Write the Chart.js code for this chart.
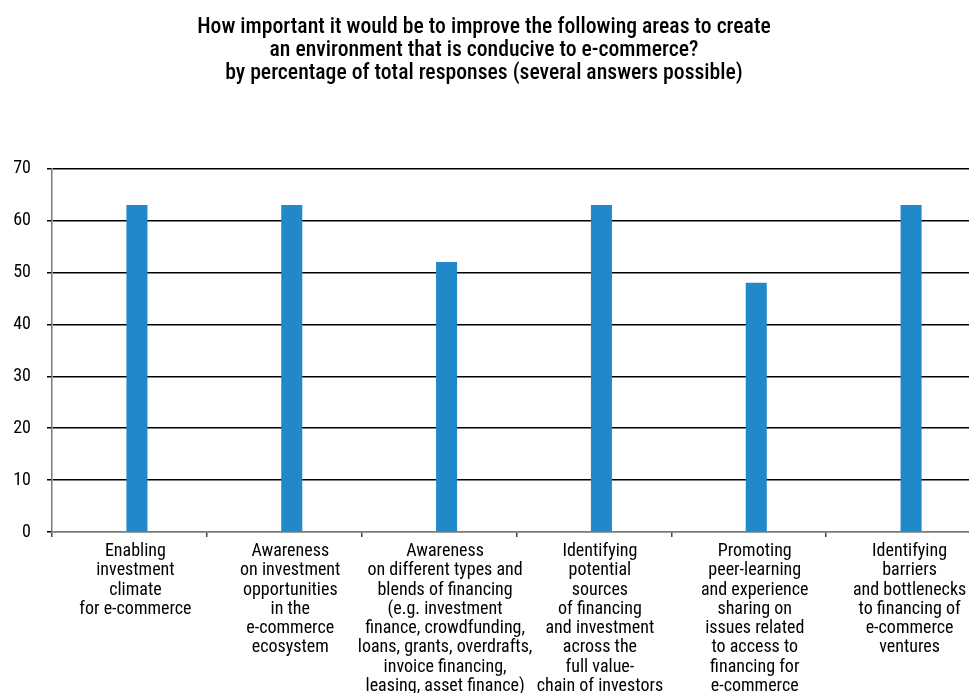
<!DOCTYPE html>
<html>
<head>
<meta charset="utf-8">
<script src="https://cdn.jsdelivr.net/npm/chart.js@4.4.1/dist/chart.umd.min.js"></script>
<style>
  html, body { margin: 0; padding: 0; background: #fff; overflow: hidden; }
  #wrap { position: relative; width: 981px; height: 693px; }
</style>
</head>
<body>
<div id="wrap"><canvas id="chart"></canvas></div>
<script>
// Survey areas (x-axis categories), one array of lines per label
const areas = [
  ["Enabling", "investment", "climate", "for e-commerce"],
  ["Awareness", "on investment", "opportunities", "in the", "e-commerce", "ecosystem"],
  ["Awareness", "on different types and", "blends of financing", "(e.g. investment",
   "finance, crowdfunding,", "loans, grants, overdrafts,", "invoice financing,", "leasing, asset finance)"],
  ["Identifying", "potential", "sources", "of financing", "and investment",
   "across the", "full value-", "chain of investors"],
  ["Promoting", "peer-learning", "and experience", "sharing on", "issues related",
   "to access to", "financing for", "e-commerce"],
  ["Identifying", "barriers", "and bottlenecks", "to financing of", "e-commerce", "ventures"]
];

// Share of total responses, %
const responses = [63, 63, 52, 63, 48, 63];

// Value axis ticks
const yTicks = [0, 10, 20, 30, 40, 50, 60, 70];

const titleLines = [
  "How important it would be to improve the following areas to create",
  "an environment that is conducive to e-commerce?",
  "by percentage of total responses (several answers possible)"
];

const FONT = "'Liberation Sans Narrow', 'Roboto Condensed', 'DejaVu Sans Condensed', sans-serif";

new Chart(document.getElementById('chart'), {
  type: 'bar',
  data: {
    labels: areas,
    datasets: [
      // empty leading series: keeps each bar just right of its category centre
      { label: '', data: [], backgroundColor: 'rgba(0,0,0,0)' },
      {
        label: 'Responses',
        data: responses,
        backgroundColor: '#2188c9',
        borderWidth: 0
      }
    ]
  },
  options: {
    responsive: true,
    maintainAspectRatio: false,
    animation: false,
    datasets: {
      bar: { categoryPercentage: 0.194, barPercentage: 1.4 }
    },
    layout: { padding: { left: -13, right: 0, top: 0, bottom: 0 } },
    plugins: {
      legend: { display: false },
      tooltip: { enabled: false },
      title: {
        display: true,
        text: titleLines,
        color: '#000',
        font: { family: FONT, size: 21.7, weight: '500', lineHeight: 1.07 },
        padding: { top: 16, bottom: 83 }
      }
    },
    scales: {
      x: {
        offset: true,
        grid: {
          display: true,
          offset: true,
          drawOnChartArea: false,
          drawTicks: true,
          tickLength: 5,
          tickColor: '#444',
          lineWidth: 1.5
        },
        border: { display: true, color: '#7a7a7a', width: 1.5 },
        ticks: {
          autoSkip: false,
          maxRotation: 0,
          minRotation: 0,
          padding: 5,
          labelOffset: 6,
          color: '#000',
          font: { family: FONT, size: 18, lineHeight: 1.07 }
        },
        afterFit: s => { s.height = 161; }
      },
      y: {
        min: 0,
        max: 70,
        afterBuildTicks: s => { s.ticks = yTicks.map(v => ({ value: v })); },
        grid: {
          color: c => c.tick && c.tick.value === 0 ? '#7a7a7a' : '#000',
          tickColor: '#000',
          lineWidth: 1.5,
          tickLength: 5
        },
        border: { display: true, color: '#7a7a7a', width: 1.5 },
        ticks: {
          padding: 16,
          color: '#000',
          font: { family: FONT, size: 18 }
        },
        afterFit: s => { s.width = 65; }
      }
    }
  }
});
</script>
</body>
</html>
